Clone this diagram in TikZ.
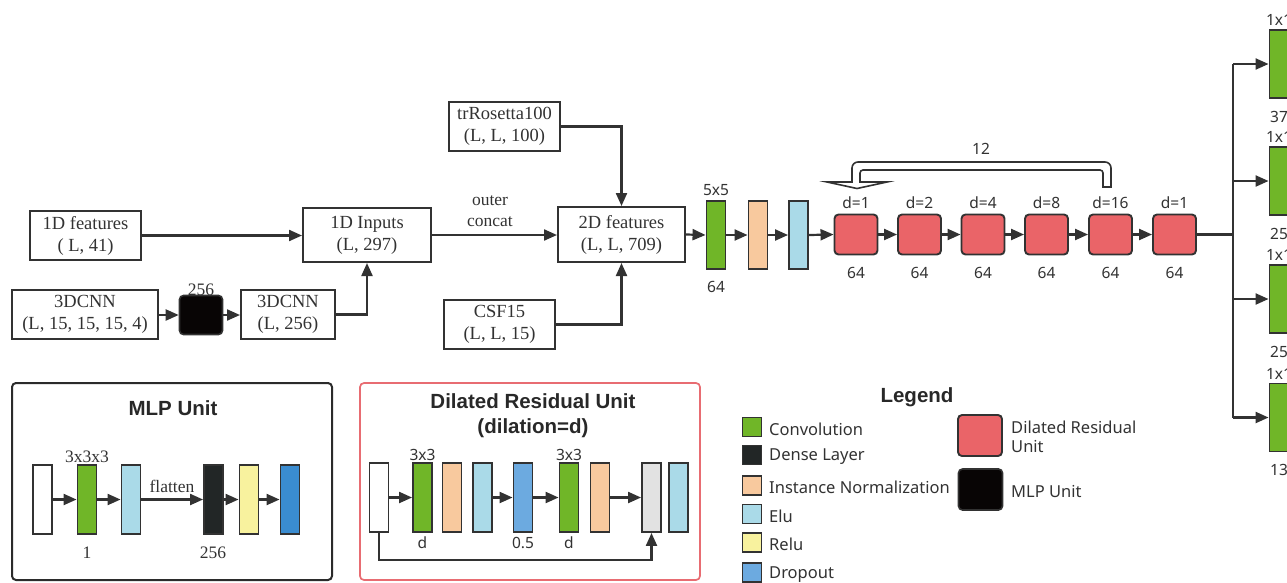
\documentclass[tikz,border=0pt]{standalone}
\usepackage{fontspec}
\setmainfont{Liberation Serif}
\newfontfamily\uisans{Noto Sans}
\newfontfamily\uihead{Liberation Sans}
\usetikzlibrary{arrows.meta}

\definecolor{ink}{RGB}{50,50,50}
\definecolor{convg}{RGB}{112,182,40}
\definecolor{inorm}{RGB}{248,201,158}
\definecolor{elub}{RGB}{170,218,232}
\definecolor{drured}{RGB}{234,100,104}
\definecolor{densek}{RGB}{34,38,38}
\definecolor{mlpk}{RGB}{8,5,5}
\definecolor{reluy}{RGB}{248,242,158}
\definecolor{dropb}{RGB}{108,170,224}
\definecolor{dropdark}{RGB}{58,140,208}
\definecolor{sumg}{RGB}{226,226,226}
\definecolor{drframe}{RGB}{232,108,114}

\tikzset{
  box/.style={draw=ink, line width=2pt, align=center, inner sep=0pt, text=ink,
    font=\fontsize{18.5}{22}\selectfont},
  layer/.style={draw=ink, line width=1.9pt, minimum width=19pt, minimum height=68pt, inner sep=0pt},
  resunit/.style={draw=ink, line width=1.9pt, fill=drured, rounded corners=4pt,
    minimum width=43pt, minimum height=40pt, inner sep=0pt},
  arr/.style={draw=ink, line width=2.2pt, -{Triangle[length=13pt,width=11pt]}},
  wire/.style={draw=ink, line width=2.2pt},
  sans/.style={text=ink, inner sep=0pt, font=\uisans\fontsize{15.5}{18}\selectfont},
  serif/.style={text=ink, inner sep=0pt, font=\fontsize{17.5}{21}\selectfont},
  title/.style={text=ink!80!black, inner sep=0pt, align=center, font=\uihead\bfseries\fontsize{20.5}{25}\selectfont},
  swatch/.style={draw=ink, line width=1.8pt, minimum width=19pt, minimum height=19pt, inner sep=0pt},
  legtext/.style={anchor=west, text=ink, inner sep=0pt, align=left, font=\uisans\fontsize{16.5}{19}\selectfont},
}

\begin{document}
\begin{tikzpicture}[x=1pt,y=-1pt]
\useasboundingbox (0,0) rectangle (1287,582);
\clip (0,0) rectangle (1287,582);

% ---------- input features ----------
\node[box, minimum width=111pt, minimum height=49pt] (f1d) at (85.5,235.5) {1D features\\( L, 41)};
\node[box, minimum width=128pt, minimum height=54pt] (in1d) at (367,235) {1D Inputs\\(L, 297)};
\node[box, minimum width=146pt, minimum height=49pt] (c3a) at (85,314.5) {3DCNN\\(L, 15, 15, 15, 4)};
\node[draw=ink, line width=1.6pt, fill=mlpk, rounded corners=4pt, minimum width=43pt, minimum height=39pt, inner sep=0pt] (mlp) at (201,315) {};
\node[serif, anchor=south] (mlpn) at (201,296) {256};
\node[box, minimum width=94pt, minimum height=49pt] (c3b) at (288,314.5) {3DCNN\\(L, 256)};
\node[box, minimum width=111pt, minimum height=49pt] (tr) at (504.5,126.5) {trRosetta100\\(L, L, 100)};
\node[box, minimum width=127pt, minimum height=55pt] (f2d) at (621.5,234.5) {2D features\\(L, L, 709)};
\node[box, minimum width=111pt, minimum height=49pt] (csf) at (499.5,324.5) {CSF15\\(L, L, 15)};

\draw[arr] (f1d.east) -- (f1d.east -| in1d.west);
\draw[arr] (c3a.east |- mlp) -- (mlp.west);
\draw[arr] (mlp.east) -- (mlp.east -| c3b.west);
\draw[arr] (c3b.east) -| (in1d.south);
\draw[arr] (in1d.east) -- (in1d.east -| f2d.west);
\node[serif, align=center] (oc) at (490,211) {outer\\concat};
\draw[arr] (tr.east) -| (f2d.north);
\draw[arr] (csf.east) -| (f2d.south);

% ---------- first convolution block ----------
\node[layer, fill=convg] (cv) at (716,235) {};
\node[layer, fill=inorm] (nm) at (758,235) {};
\node[layer, fill=elub] (el) at (798.5,235) {};
\node[sans, anchor=south] at (cv.north) [yshift=4pt] {5x5};
\node[sans, anchor=north] at (cv.south) [yshift=-11pt] {64};
\draw[arr] (f2d.east) -- (cv.west);
\draw[arr] (cv.east) -- (nm.west);
\draw[arr] (nm.east) -- (el.west);

% ---------- dilated residual chain ----------
\foreach \i/\x/\d in {1/856/1, 2/919.5/2, 3/983/4, 4/1046.5/8, 5/1110.5/16, 6/1174.5/1} {
  \node[resunit] (r\i) at (\x,234.5) {};
  \node[sans, anchor=south] at (r\i.north) [yshift=5pt] {d=\d};
  \node[sans, anchor=north] at (r\i.south) [yshift=-12pt] {64};
}
\draw[arr] (el.east) -- (r1.west);
\foreach \a/\b in {1/2, 2/3, 3/4, 4/5, 5/6} { \draw[arr] (r\a.east) -- (r\b.west); }

% repeat loop (hollow arrow)
\draw[ink, line width=1.6pt, fill=white, line join=miter]
  (1111,187) [rounded corners=6pt] -- (1111,162) -- (852,162) [sharp corners] -- (852,182)
  -- (827,182) -- (857,188.5) -- (887,182) -- (860,182)
  [rounded corners=3pt] -- (860,170) -- (1103,170) [sharp corners] -- (1103,187) -- cycle;
\node[sans] (rep) at (981,149) {12};

% ---------- output heads ----------
\coordinate (hub) at (1233,234.5);
\draw[wire] (r6.east) -- (hub);
\foreach \i/\y/\n in {1/64/37, 2/181/25, 3/299/25, 4/417.5/13} {
  \node[layer, fill=convg] (o\i) at (1279,\y) {};
  \node[sans, anchor=south] at (o\i.north) [yshift=3pt] {1x1};
  \node[sans, anchor=north] at (o\i.south) [yshift=-12pt] {\n};
  \draw[arr] (hub |- o\i) -- (o\i.west);
}
\draw[wire] (hub |- o1) -- (hub |- o4);

% ---------- MLP unit ----------
\draw[ink!85!black, line width=2pt, rounded corners=4pt] (12,383) rectangle (332,580);
\node[title] at (173,408) {MLP Unit};
\node[layer, fill=white, minimum height=69pt] (m1) at (42.5,499.5) {};
\node[layer, fill=convg, minimum height=69pt] (m2) at (87,499.5) {};
\node[layer, fill=elub, minimum height=69pt] (m3) at (131,499.5) {};
\node[layer, fill=densek, minimum height=69pt] (m4) at (213.5,499.5) {};
\node[layer, fill=reluy, minimum height=69pt] (m5) at (249,499.5) {};
\node[layer, fill=dropdark, minimum height=69pt] (m6) at (290,499.5) {};
\draw[arr] (m1.east) -- (m2.west);
\draw[arr] (m2.east) -- (m3.west);
\draw[arr] (m3.east) -- (m4.west);
\draw[arr] (m4.east) -- (m5.west);
\draw[arr] (m5.east) -- (m6.west);
\node[serif, anchor=south] at (m2.north) [yshift=1pt] {3x3x3};
\node[serif] at (87,553) {1};
\node[serif] at (172,486) {flatten};
\node[serif] at (213,553) {256};

% ---------- dilated residual unit ----------
\draw[drframe, line width=1.7pt, rounded corners=4pt] (360,383) rectangle (700,580);
\node[title] at (533,416) {Dilated Residual Unit\\(dilation=d)};
\node[layer, fill=white, minimum height=69pt] (u1) at (379,497.5) {};
\node[layer, fill=convg, minimum height=69pt] (u2) at (422.5,497.5) {};
\node[layer, fill=inorm, minimum height=69pt] (u3) at (452,497.5) {};
\node[layer, fill=elub, minimum height=69pt] (u4) at (482.5,497.5) {};
\node[layer, fill=dropb, minimum height=69pt] (u5) at (523,497.5) {};
\node[layer, fill=convg, minimum height=69pt] (u6) at (569,497.5) {};
\node[layer, fill=inorm, minimum height=69pt] (u7) at (600,497.5) {};
\node[layer, fill=sumg, minimum height=69pt] (u8) at (651.5,497.5) {};
\node[layer, fill=elub, minimum height=69pt] (u9) at (678.5,497.5) {};
\draw[arr] (u1.east) -- (u2.west);
\draw[arr] (u4.east) -- (u5.west);
\draw[arr] (u5.east) -- (u6.west);
\draw[arr] (u7.east) -- (u8.west);
\draw[arr] (u1.south) -- (379,560) -| (u8.south);
\node[sans, anchor=south] at (u2.north) [yshift=1pt] {3x3};
\node[sans, anchor=south] at (u6.north) [yshift=1pt] {3x3};
\node[sans] at (422.5,543) {d};
\node[sans] at (523,543) {0.5};
\node[sans] at (569,543) {d};

% ---------- legend ----------
\node[title] at (917,397) {Legend};
\foreach \c/\y/\t in {convg/427/Convolution, densek/455/Dense Layer, inorm/485.5/Instance Normalization,
                      elub/514/Elu, reluy/542.5/Relu, dropb/572.5/Dropout} {
  \node[swatch, fill=\c] (s\c) at (752,\y) {};
  \node[legtext] at (769,\y+2) {\t};
}
\node[resunit, minimum width=44pt, minimum height=41pt] (lr) at (980,435.5) {};
\node[legtext] at (1011,437) {Dilated Residual\\Unit};
\node[draw=ink, line width=1.6pt, fill=mlpk, rounded corners=4pt, minimum width=44pt, minimum height=41pt, inner sep=0pt] (lm) at (980.5,489.5) {};
\node[legtext] at (1011,491) {MLP Unit};
\end{tikzpicture}
\end{document}
